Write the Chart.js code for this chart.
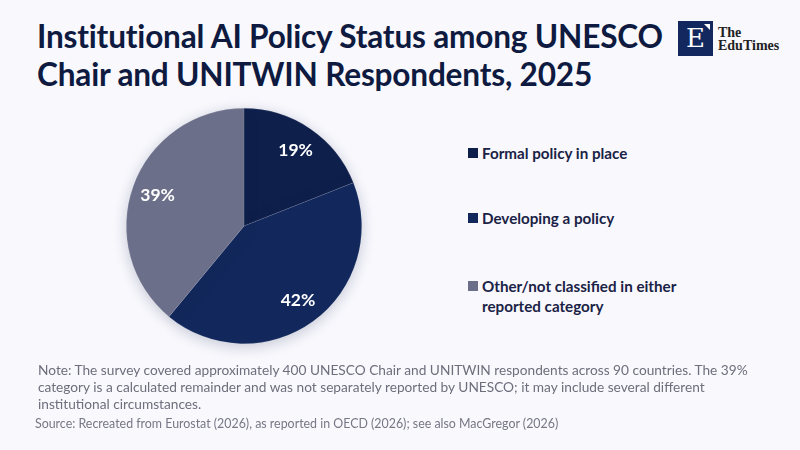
<!DOCTYPE html>
<html>
<head>
<meta charset="utf-8">
<script src="https://cdn.jsdelivr.net/npm/chart.js@4.4.1/dist/chart.umd.min.js"></script>
<style>
  html, body { margin: 0; padding: 0; }
  body { width: 800px; height: 450px; background: #f8f8fd; position: relative; overflow: hidden; font-family: Lato, "Noto Sans", sans-serif; }
  #title { position: absolute; left: 37px; top: 17px; font-size: 31.6px; font-weight: 700; line-height: 38px; color: #0e1a3f; letter-spacing: -0.2px; }
  #logo { position: absolute; left: 678px; top: 21px; }
  #logo .box { position: absolute; left: 0; top: 0; width: 35px; height: 35px; background: #13285e; color: #fff; font-family: "DejaVu Serif", "Liberation Serif", serif; font-size: 26px; line-height: 35px; text-align: center; }
  #logo .box:after { content: ""; position: absolute; right: 3px; top: 3px; border-left: 6px solid transparent; border-top: 6px solid #fff; }
  #logo .name { position: absolute; left: 40px; top: 5px; font-family: "Liberation Serif", serif; font-size: 14px; line-height: 13px; color: #222; font-weight: 700; white-space: nowrap; }
  #chartBox { position: absolute; left: 104px; top: 86px; width: 280px; height: 280px; }
  #legend { position: absolute; left: 468px; top: 0; width: 300px; }
  .item { position: absolute; left: 0; font-size: 15.2px; font-weight: 700; color: #1a2245; line-height: 20px; padding-left: 14px; white-space: nowrap; }
  .item i { position: absolute; left: 0; top: 5px; width: 10px; height: 10px; }
  #note { position: absolute; left: 38px; top: 361px; width: 728px; font-size: 13.7px; line-height: 17px; color: #6e6e7c; }
  #source { position: absolute; left: 35px; top: 416px; font-size: 12.4px; color: #777785; }
</style>
</head>
<body>
<div id="title">Institutional AI Policy Status among UNESCO<br>Chair and UNITWIN Respondents, 2025</div>
<div id="logo"><div class="box">E</div><div class="name">The<br>EduTimes</div></div>
<div id="chartBox"><canvas id="pie"></canvas></div>
<div id="legend"></div>
<div id="note">Note: The survey covered approximately 400 UNESCO Chair and UNITWIN respondents across 90 countries. The 39% category is a calculated remainder and was not separately reported by UNESCO; it may include several different institutional circumstances.</div>
<div id="source">Source: Recreated from Eurostat (2026), as reported in OECD (2026); see also MacGregor (2026)</div>
<script>
const categories = ['Formal policy in place', 'Developing a policy', 'Other/not classified in either reported category'];
const legendLines = [['Formal policy in place'], ['Developing a policy'], ['Other/not classified in either', 'reported category']];
const shares = [19, 42, 39];
const sliceColors = ['#0e1f4b', '#12285c', '#6b6f89'];

// legend built from the category arrays
const legendTops = [143, 208, 276];
const legend = document.getElementById('legend');
legendLines.forEach(function (lines, i) {
    const div = document.createElement('div');
    div.className = 'item';
    div.style.top = legendTops[i] + 'px';
    div.innerHTML = '<i style="background:' + sliceColors[i] + '"></i>' + lines.join('<br>');
    legend.appendChild(div);
});

const shadowPlugin = {
    id: 'pieShadow',
    beforeDatasetsDraw(chart) {
        const ctx = chart.ctx;
        ctx.save();
        ctx.shadowColor = 'rgba(20, 30, 70, 0.22)';
        ctx.shadowBlur = 14;
        ctx.shadowOffsetY = 3;
    },
    afterDatasetsDraw(chart) {
        chart.ctx.restore();
    }
};

const labelPlugin = {
    id: 'sliceLabels',
    afterDatasetsDraw(chart) {
        const ctx = chart.ctx;
        const meta = chart.getDatasetMeta(0);
        ctx.save();
        ctx.font = 'bold 17.5px Lato, "Noto Sans", sans-serif';
        ctx.fillStyle = '#ffffff';
        ctx.textAlign = 'center';
        ctx.textBaseline = 'middle';
        meta.data.forEach(function (arc, i) {
            const mid = (arc.startAngle + arc.endAngle) / 2;
            const r = arc.outerRadius * 0.78;
            ctx.fillText(shares[i] + '%', arc.x + Math.cos(mid) * r, arc.y + Math.sin(mid) * r);
        });
        ctx.restore();
    }
};

new Chart(document.getElementById('pie').getContext('2d'), {
    type: 'pie',
    data: {
        labels: categories,
        datasets: [{
            data: shares,
            backgroundColor: sliceColors,
            borderColor: 'rgba(255,255,255,0.18)',
            borderWidth: 0.6
        }]
    },
    options: {
        responsive: true,
        maintainAspectRatio: false,
        animation: false,
        layout: { padding: 22 },
        plugins: {
            legend: { display: false },
            tooltip: { enabled: false }
        }
    },
    plugins: [shadowPlugin, labelPlugin]
});
</script>
</body>
</html>
